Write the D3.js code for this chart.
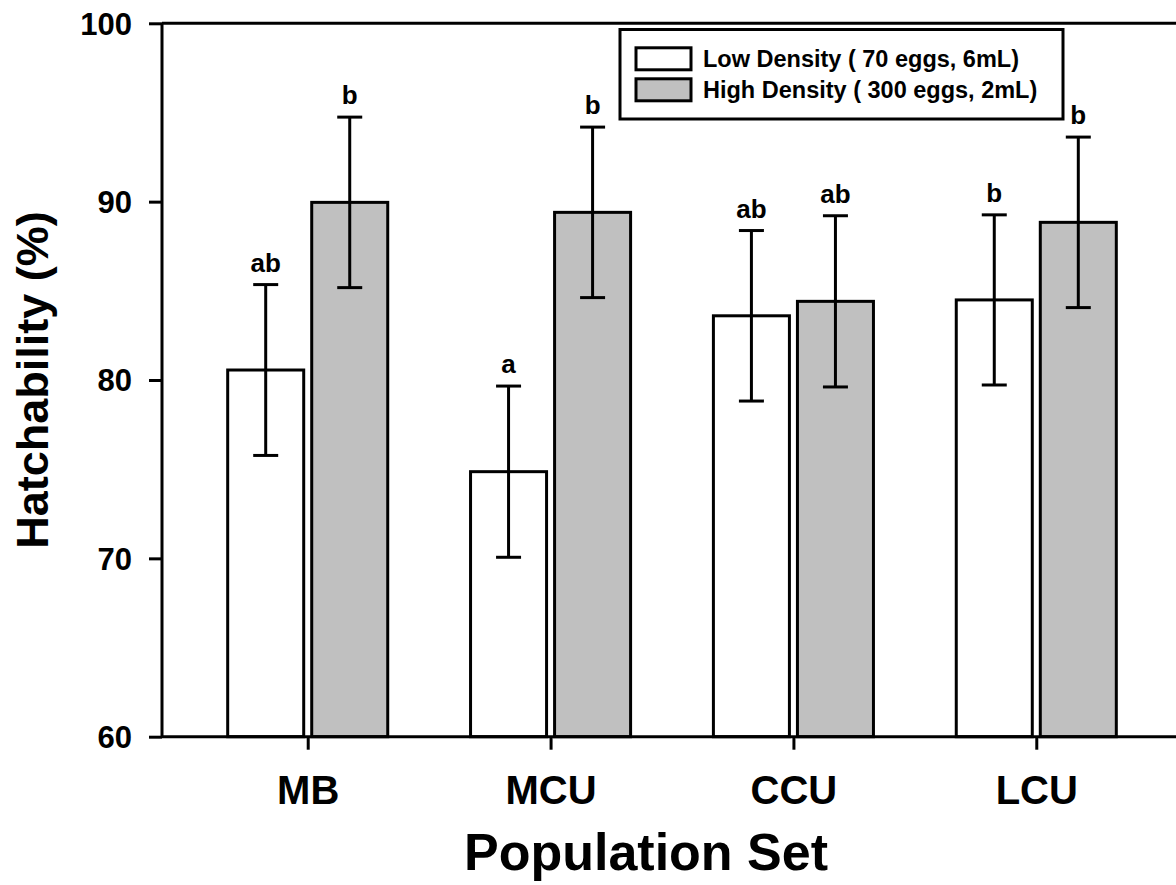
<!DOCTYPE html>
<html>
<head>
<meta charset="utf-8">
<script src="https://cdn.jsdelivr.net/npm/d3@7"></script>
<style>
  html, body { margin: 0; padding: 0; background: #fff; }
  svg { display: block; font-family: Arial, "Liberation Sans", sans-serif; }
</style>
</head>
<body>
<svg id="chart" width="1176" height="885"></svg>
<script>
const categories = ["MB", "MCU", "CCU", "LCU"];
const seriesNames = ["Low Density ( 70 eggs, 6mL)", "High Density ( 300 eggs, 2mL)"];
const lowValues = [80.56, 74.86, 83.60, 84.49];
const lowErrors = [4.79, 4.80, 4.78, 4.77];
const lowLetters = ["ab", "a", "ab", "b"];
const highValues = [89.96, 89.40, 84.41, 88.84];
const highErrors = [4.78, 4.78, 4.80, 4.78];
const highLetters = ["b", "b", "ab", "b"];
const yTicks = [60, 70, 80, 90, 100];
const seriesFill = ["#ffffff", "#c0c0c0"];

const svg = d3.select("#chart");

const x = d3.scaleLinear().domain([-0.6, 3.6]).range([162, 1182]);
const y = d3.scaleLinear().domain([60, 100]).range([736.7, 23.3]);

const offset = 0.173, bw = 0.313;
const series = [
  { values: lowValues, errors: lowErrors, letters: lowLetters, off: -offset, fill: seriesFill[0] },
  { values: highValues, errors: highErrors, letters: highLetters, off: offset, fill: seriesFill[1] }
];

const g = svg.append("g");

// bars
series.forEach(s => {
  g.selectAll(null).data(categories).enter().append("rect")
    .attr("x", (d, i) => x(i + s.off - bw / 2))
    .attr("width", x(bw) - x(0))
    .attr("y", (d, i) => y(s.values[i]))
    .attr("height", (d, i) => y(60) - y(s.values[i]))
    .attr("fill", s.fill)
    .attr("stroke", "#000")
    .attr("stroke-width", 3);
});

// error bars
const capHalf = 12.5;
series.forEach(s => {
  categories.forEach((c, i) => {
    const cx = x(i + s.off);
    const top = y(s.values[i] + s.errors[i]);
    const bot = y(s.values[i] - s.errors[i]);
    g.append("line").attr("x1", cx).attr("x2", cx).attr("y1", top).attr("y2", bot)
      .attr("stroke", "#000").attr("stroke-width", 3);
    [top, bot].forEach(yy => {
      g.append("line").attr("x1", cx - capHalf).attr("x2", cx + capHalf).attr("y1", yy).attr("y2", yy)
        .attr("stroke", "#000").attr("stroke-width", 3);
    });
    g.append("text").attr("x", cx).attr("y", top - 13)
      .attr("text-anchor", "middle").attr("font-size", 26).attr("font-weight", "bold")
      .text(s.letters[i]);
  });
});

// top frame line
svg.append("line").attr("x1", 162).attr("x2", 1182).attr("y1", y(100)).attr("y2", y(100))
  .attr("stroke", "#000").attr("stroke-width", 3);

// y axis
const yAxis = d3.axisLeft(y).tickValues(yTicks).tickSize(13).tickPadding(17).tickFormat(d3.format("d"));
const ya = svg.append("g").attr("transform", "translate(162,0)").call(yAxis);
ya.select(".domain").attr("stroke-width", 3).attr("d", `M0,${y(100)}V${y(60)}`);
ya.selectAll(".tick line").attr("stroke-width", 3);
ya.selectAll(".tick text").attr("font-size", 31).attr("font-weight", "bold")
  .attr("font-family", "Arial, 'Liberation Sans', sans-serif").attr("fill", "#000").attr("dy", "0.35em");

// x axis
const xAxis = d3.axisBottom(x).tickValues([0, 1, 2, 3]).tickSize(13).tickPadding(26)
  .tickFormat(i => categories[i]);
const xa = svg.append("g").attr("transform", `translate(0,${y(60)})`).call(xAxis);
xa.select(".domain").attr("stroke-width", 3).attr("d", `M162,0H1182`);
xa.selectAll(".tick line").attr("stroke-width", 3);
xa.selectAll(".tick text").attr("font-size", 40).attr("font-weight", "bold")
  .attr("font-family", "Arial, 'Liberation Sans', sans-serif").attr("fill", "#000")
  .attr("dy", "0.71em");

// axis titles
svg.append("text").attr("transform", `translate(48,${(y(60) + y(100)) / 2}) rotate(-90)`)
  .attr("text-anchor", "middle").attr("font-size", 45).attr("font-weight", "bold")
  .text("Hatchability (%)");
svg.append("text").attr("x", 646).attr("y", 870)
  .attr("text-anchor", "middle").attr("font-size", 52).attr("font-weight", "bold")
  .text("Population Set");

// legend
const lg = svg.append("g");
lg.append("rect").attr("x", 620).attr("y", 29.5).attr("width", 443).attr("height", 89.5)
  .attr("fill", "#fff").attr("stroke", "#000").attr("stroke-width", 3);
seriesNames.forEach((name, k) => {
  const cy = 58.8 + k * 31;
  lg.append("rect").attr("x", 636).attr("y", cy - 11).attr("width", 55).attr("height", 22)
    .attr("fill", seriesFill[k]).attr("stroke", "#000").attr("stroke-width", 3);
  lg.append("text").attr("x", 703).attr("y", cy + 8.5)
    .attr("font-size", 23.5).attr("font-weight", "bold").text(name);
});
</script>
</body>
</html>
